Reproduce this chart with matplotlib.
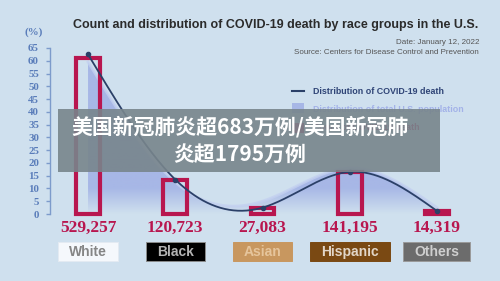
import matplotlib
matplotlib.use("Agg")
import matplotlib.pyplot as plt
import numpy as np
from matplotlib.patches import Rectangle, Polygon
from matplotlib.colors import LinearSegmentedColormap
import matplotlib.transforms as mtransforms

# data
races = ["White", "Black", "Asian", "Hispanic", "Others"]
death_counts = ["529,257", "120,723", "27,083", "141,195", "14,319"]
death_share = [61.0, 13.5, 2.5, 16.5, 1.2]        # hollow bars (%)
death_line = [62.5, 13.5, 2.5, 16.5, 1.2]         # line points (%)
population_share = [59.5, 12.5, 5.0, 18.0, 2.5]   # shaded area (%)
yticks = list(range(0, 70, 5))

box_colors = ["#f5f8fc", "#000000", "#c8975f", "#7a4913", "#6c6c6c"]
text_colors = ["#858585", "#b4b4b4", "#e6c59c", "#e2d6c8", "#cfcfcf"]
edge_colors = ["#e4eaf2", "#8a8a8a", "#c8975f", "#7a4913", "#9a9a9a"]

BG = "#cfe0ee"
CRIMSON = "#b8164f"
NAVY = "#2b4068"
TICKBLUE = "#5a7dba"
AREA = "#a7b7e6"
FONT = "Liberation Sans"


def natural_spline(y, n=60):
    # smooth curve through the points (natural cubic spline, unit spacing)
    y = np.asarray(y, float)
    k = len(y)
    A = np.zeros((k, k))
    b = np.zeros(k)
    A[0, 0] = A[-1, -1] = 1
    for i in range(1, k - 1):
        A[i, i - 1:i + 2] = [1, 4, 1]
        b[i] = 6 * (y[i + 1] - 2 * y[i] + y[i - 1])
    M = np.linalg.solve(A, b)
    xs, ys = [], []
    for i in range(k - 1):
        t = np.linspace(0, 1, n, endpoint=(i == k - 2))
        s = ((1 - t) * y[i] + t * y[i + 1]
             + ((1 - t) ** 3 - (1 - t)) * M[i] / 6 + (t ** 3 - t) * M[i + 1] / 6)
        xs.append(i + t)
        ys.append(s)
    return np.concatenate(xs), np.concatenate(ys)


W, H = 500, 281
fig = plt.figure(figsize=(W / 100, H / 100), dpi=100, facecolor=BG)


def px(x, y):
    return x / W, 1 - y / H


ax = fig.add_axes([50 / W, 1 - 214 / H, 430 / W, 166 / H])
ax.set_facecolor("none")
x = np.arange(len(races))
ax.set_xlim(-0.436, 4.493)
ax.set_ylim(0, 65)

# population area with vertical gradient
xs, ys = natural_spline(population_share)
verts = np.column_stack([np.r_[xs, xs[-1], xs[0]], np.r_[ys, 0, 0]])
poly = Polygon(verts, closed=True, facecolor="none", edgecolor="none")
ax.add_patch(poly)
cmap = LinearSegmentedColormap.from_list("g", [BG, AREA, AREA])
grad = np.linspace(0, 1, 256).reshape(-1, 1)
im = ax.imshow(np.clip(grad * 3.2, 0, 1), extent=[-0.436, 4.493, 0, 65], origin="lower",
               aspect="auto", cmap=cmap, vmin=0, vmax=1, zorder=1)
im.set_clip_path(poly)
ax.plot(xs, ys, color="#c3d0f0", lw=2.0, alpha=0.8, zorder=1.5)

# hollow bars
ax.bar(x, death_share, width=0.27, facecolor="none", edgecolor=CRIMSON,
       linewidth=3.0, zorder=3, clip_on=False)

# death distribution line
lx, ly = natural_spline(death_line)
ax.plot(lx, ly, color=NAVY, lw=1.3, zorder=4)
ax.plot(x, death_line, "o", color=NAVY, ms=3, zorder=4)

# axes styling
for s in ["top", "right", "bottom"]:
    ax.spines[s].set_visible(False)
ax.spines["left"].set_color("#7d9bcb")
ax.spines["left"].set_linewidth(1.0)
ax.set_xticks([])
ax.set_yticks(yticks)
ax.tick_params(axis="y", colors="#7d9bcb", length=3, width=1, pad=5)
for lab in ax.get_yticklabels():
    lab.set_color(TICKBLUE)
    lab.set_fontweight("bold")
    lab.set_fontsize(7.8)
    lab.set_family("Liberation Serif")
fig.text(*px(34, 32), "(%)", color=TICKBLUE, fontsize=7.8, fontweight="bold",
         family="Liberation Serif", ha="center", va="center")

# counts and race boxes under each bar
tr = mtransforms.blended_transform_factory(ax.transData, fig.transFigure)
renderer = fig.canvas.get_renderer()
for i in range(len(races)):
    ax.text(x[i], 1 - 228 / H, death_counts[i], transform=tr, ha="center", va="center",
            color=CRIMSON, fontsize=12.5, fontweight="bold", family="Liberation Serif")
    t = ax.text(x[i], 1 - 256 / H, races[i], transform=tr, ha="center",
                va="baseline", color=text_colors[i], fontsize=10, fontweight="bold",
                family=FONT, zorder=6)
    bb = t.get_window_extent(renderer)
    bw = bb.width + 22
    cx = (bb.x0 + bb.x1) / 2
    box = Rectangle(((cx - bw / 2) / W, 1 - 261 / H), bw / W, 19 / H,
                    transform=fig.transFigure, facecolor=box_colors[i],
                    edgecolor=edge_colors[i], linewidth=0.7, zorder=5)
    fig.add_artist(box)
    t.remove()
    fig.text(cx / W, 1 - 256 / H, races[i], ha="center", va="baseline",
             color=text_colors[i], fontsize=10, fontweight="bold", family=FONT, zorder=6)

# title block
fig.text(*px(276, 25), "Count and distribution of COVID-19 death by race groups in the U.S.",
         ha="center", va="center", color="#2b2b2b", fontsize=9.0, fontweight="bold", family=FONT)
fig.text(*px(479, 42), "Date: January 12, 2022", ha="right", va="center",
         color="#555555", fontsize=5.8, family=FONT)
fig.text(*px(479, 53), "Source: Centers for Disease Control and Prevention", ha="right",
         va="center", color="#555555", fontsize=5.8, family=FONT)

# legend
fig.add_artist(plt.Line2D([292 / W, 304 / W], [1 - 91 / H, 1 - 91 / H], color=NAVY, lw=1.5))
fig.text(*px(313, 91), "Distribution of COVID-19 death", ha="left", va="center",
         color="#2f4476", fontsize=6.4, fontweight="bold", family=FONT)
fig.add_artist(Rectangle(px(292, 113), 12 / W, 10 / H, facecolor=AREA, edgecolor="none"))
fig.text(*px(313, 109), "Distribution of total U.S. population", ha="left", va="center",
         color="#a3b2e8", fontsize=6.4, fontweight="bold", family=FONT)
fig.add_artist(Rectangle(px(292, 133), 12 / W, 10 / H, facecolor=CRIMSON, edgecolor="none"))
fig.text(*px(313, 128), "Count of COVID-19 death", ha="left", va="center",
         color=CRIMSON, fontsize=6.4, fontweight="bold", family=FONT)

# grey overlay banner with Chinese caption
banner = Rectangle(px(58, 172), 382 / W, 63 / H, facecolor="#78858c", alpha=0.9,
                   edgecolor="none", zorder=10)
fig.add_artist(banner)
fig.text(*px(240, 127), "美国新冠肺炎超683万例/美国新冠肺", ha="center", va="center",
         color="white", fontsize=15, fontweight="bold",
         family=["Noto Sans CJK SC", "DejaVu Sans"], zorder=11)
fig.text(*px(240, 154), "炎超1795万例", ha="center", va="center",
         color="white", fontsize=15, fontweight="bold",
         family=["Noto Sans CJK SC", "DejaVu Sans"], zorder=11)

fig.savefig("out.png", dpi=100, facecolor=BG)
